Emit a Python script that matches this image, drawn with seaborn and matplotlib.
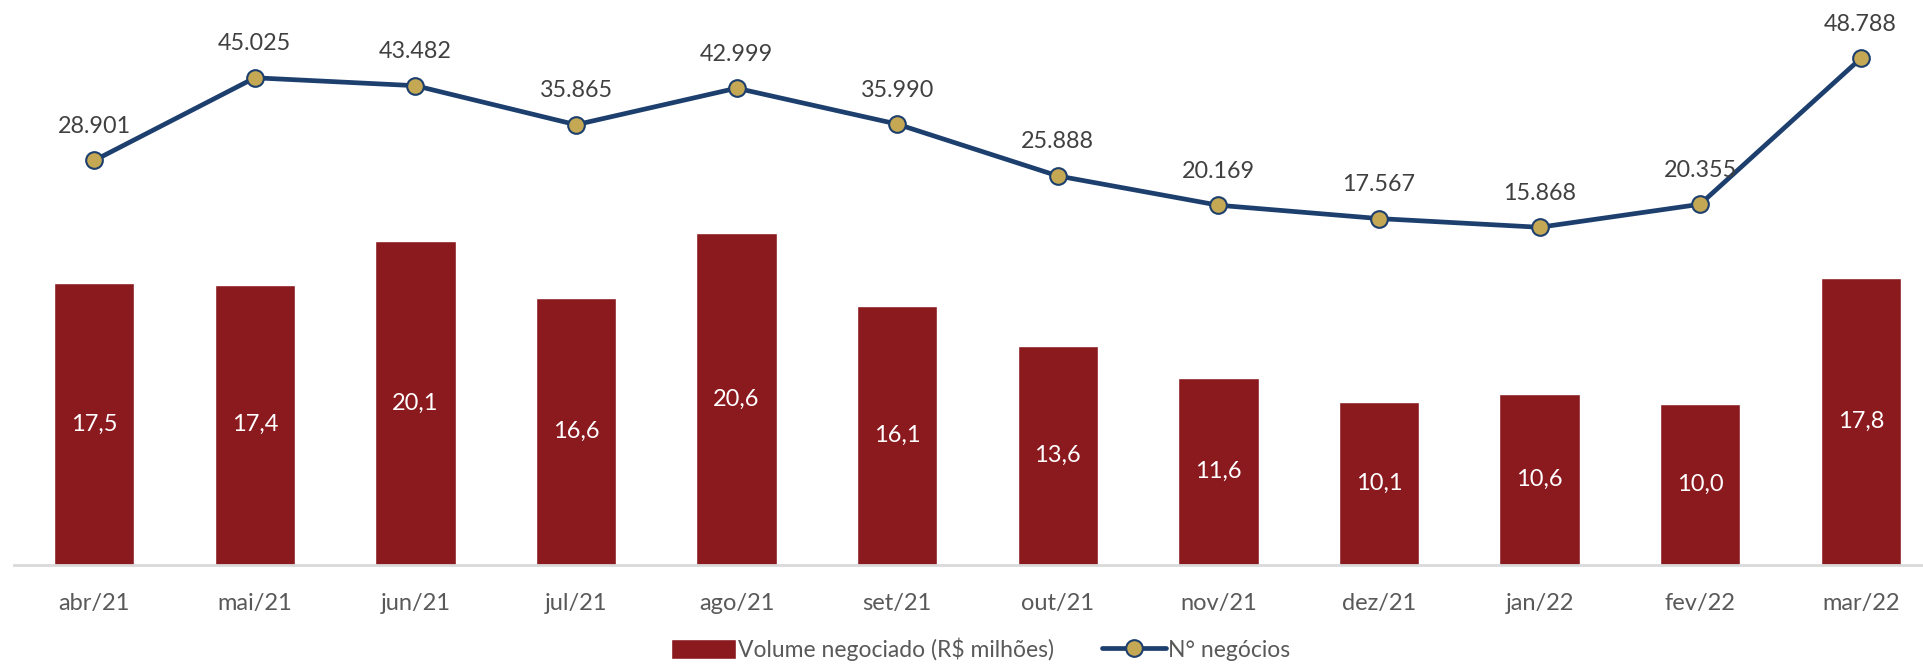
import numpy as np
import pandas as pd
import matplotlib
matplotlib.use("Agg")
import matplotlib.pyplot as plt
import seaborn as sns

# --- data ---
meses = ['abr/21', 'mai/21', 'jun/21', 'jul/21', 'ago/21', 'set/21',
         'out/21', 'nov/21', 'dez/21', 'jan/22', 'fev/22', 'mar/22']
volume = [17.5, 17.4, 20.1, 16.6, 20.6, 16.1, 13.6, 11.6, 10.1, 10.6, 10.0, 17.8]
negocios = [28901, 45025, 43482, 35865, 42999, 35990, 25888, 20169, 17567, 15868, 20355, 48788]

df = pd.DataFrame({'mes': meses, 'volume': volume, 'negocios': negocios})

bar_color = '#8B1A1F'
line_color = '#1D3F6E'
marker_color = '#C4A853'
text_gray = '#595959'
label_gray = '#404040'

sns.set_style("white")
plt.rcParams['font.family'] = ['Lato', 'DejaVu Sans']

fig = plt.figure(figsize=(19.23, 6.64), dpi=100)
# plot area runs a little past the right edge (the last category is clipped in the original)
ax = fig.add_axes([14 / 1923, 99 / 664, 1927 / 1923, 564 / 664])

sns.barplot(data=df, x='mes', y='volume', color=bar_color, width=0.5,
            saturation=1, ax=ax, label='Volume negociado (R$ milhões)')
ax.set_ylim(0, 35)
ax.set_xlim(-0.5, len(meses) - 0.5)

# white value labels in the middle of each bar
ax.bar_label(ax.containers[0], labels=[f'{v:.1f}'.replace('.', ',') for v in volume],
             label_type='center', color='white', fontsize=17)

# secondary axis for the number of deals
ax2 = ax.twinx()
sns.lineplot(data=df, x='mes', y='negocios', sort=False, ax=ax2, color=line_color,
             linewidth=3.4, marker='o', markersize=12, markerfacecolor=marker_color,
             markeredgecolor=line_color, markeredgewidth=1.5, label='N° negócios')
ax2.set_ylim(-50000, 60000)

for i, n in enumerate(negocios):
    ax2.annotate(f'{n:,}'.replace(',', '.'), (i, n), xytext=(0, 24.5),
                 textcoords='offset points', ha='center', va='center',
                 fontsize=16.8, color=label_gray)

# axes cosmetics
for a in (ax, ax2):
    for s in ('top', 'left', 'right'):
        a.spines[s].set_visible(False)
    a.set_ylabel(None)
    a.set_yticks([])
ax2.spines['bottom'].set_visible(False)
ax.spines['bottom'].set_color('#D9D9D9')
ax.spines['bottom'].set_linewidth(2)
ax.set_xlabel(None)
ax.set_xticks(range(len(meses)))
ax.set_xticklabels(meses)
ax.tick_params(axis='x', which='major', length=0, pad=20, labelsize=17, labelcolor=text_gray)
ax.set_xticks(np.arange(-0.5, len(meses)), minor=True)
ax.tick_params(axis='x', which='minor', length=7, width=2, color='#D9D9D9')

# legend at the bottom
h1, l1 = ax.get_legend_handles_labels()
h2, l2 = ax2.get_legend_handles_labels()
for a in (ax, ax2):
    if a.get_legend():
        a.get_legend().remove()
fig.legend(h1 + h2, l1 + l2, loc='center', bbox_to_anchor=(981 / 1923, 1 - 649 / 664),
           ncol=2, frameon=False, fontsize=16.5, labelcolor=text_gray,
           handlelength=2.8, handleheight=1.0, handletextpad=0.1, columnspacing=2.1)

plt.savefig('out.png', dpi=100)
